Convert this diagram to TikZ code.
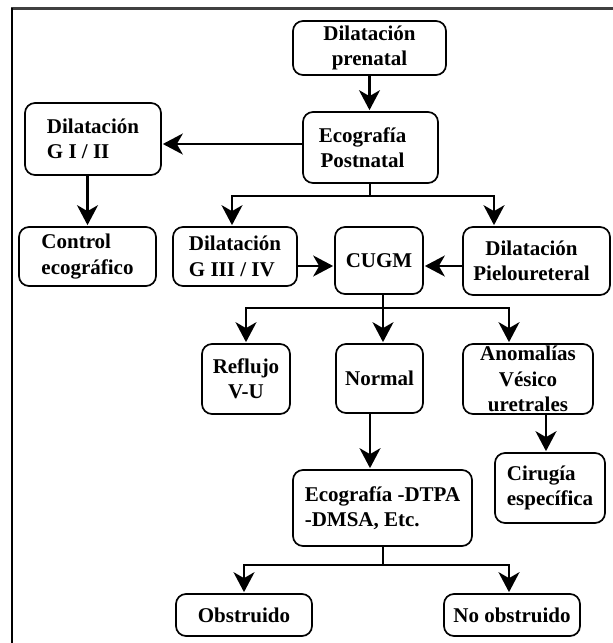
\documentclass[tikz,border=0pt]{standalone}
\usepackage{fontspec}
\setmainfont{Liberation Serif}
\usetikzlibrary{arrows.meta}
\begin{document}
\begin{tikzpicture}[x=1pt,y=-1pt,
 box/.style={draw, line width=1.7pt, rounded corners=10pt, inner sep=0pt, align=center, font=\bfseries\fontsize{21}{25.5}\selectfont},
 lbox/.style={box, align=left},
 conn/.style={line width=2.2pt},
 arr/.style={conn, -{Stealth[length=20pt,width=21pt,inset=6pt]}, shorten >=1pt}]
\useasboundingbox (0,0) rectangle (613,643);
% frame
\draw[line width=2.5pt, black!75] (11,8.5) -- (613,8.5);
\draw[line width=2.2pt] (12,7.5) -- (12,643);
% nodes
\node[box, minimum width=153pt, minimum height=54pt] (pre) at (369.5,48) {Dilatación\\prenatal};
\node[box, minimum width=135pt, minimum height=71pt] (eco) at (370.5,147.5) {\hspace*{-16pt}Ecografía\\\hspace*{-16pt}Postnatal};
\node[lbox, minimum width=136pt, minimum height=72pt] (g12) at (93,139) {Dilatación\\G I / II};
\node[lbox, minimum width=137pt, minimum height=59pt] (ctrl) at (87.5,256.5) {Control\\ecográfico};
\node[lbox, minimum width=124pt, minimum height=59pt] (g34) at (235,256.5) {Dilatación\\G III / IV};
\node[box, minimum width=88pt, minimum height=67pt] (cugm) at (379,260.5) {CUGM};
\node[box, minimum width=147pt, minimum height=68pt] (pielo) at (536.5,261) {\hspace*{-10pt}Dilatación\\\hspace*{-10pt}Pieloureteral};
\node[box, minimum width=88pt, minimum height=70pt] (refl) at (246,379) {Reflujo\\V-U};
\node[box, minimum width=87pt, minimum height=69pt] (norm) at (379.5,378.5) {Normal};
\node[box, minimum width=130pt, minimum height=70pt] (anom) at (528,379) {Anomalías\\Vésico\\uretrales};
\node[lbox, minimum width=110pt, minimum height=70pt] (cir) at (550,488) {Cirugía\\específica};
\node[lbox, minimum width=179pt, minimum height=76pt] (dtpa) at (382.5,508) {Ecografía -DTPA\\-DMSA, Etc.};
\node[box, minimum width=136pt, minimum height=42pt] (obs) at (244,615) {Obstruido};
\node[box, minimum width=136pt, minimum height=42pt] (nobs) at (512,615) {No obstruido};
% junctions
\coordinate (j1) at (370,196);
\coordinate (j2) at (383,308);
\coordinate (j3) at (383,565);
\coordinate (a1) at ([xshift=-42.5pt]pielo.north);
\coordinate (a2) at ([xshift=-19pt]anom.north);
\coordinate (a3) at ([xshift=-4pt]cir.north);
\coordinate (a4) at ([xshift=-9.5pt]norm.south);
\coordinate (a5) at ([yshift=-5.5pt]cugm.west);
\coordinate (a6) at ([yshift=-5.5pt]cugm.east);
\coordinate (a7) at ([yshift=3.5pt]eco.west);
% connectors
\draw[arr] (pre.south) -- (pre.south |- eco.north);
\draw[arr] (a7) -- (a7 -| g12.east);
\draw[arr] (g12.south -| ctrl.north) -- (ctrl.north);
\draw[conn] (eco.south -| j1) -- (j1);
\draw[arr] (j1) -| ([xshift=-3pt]g34.north);
\draw[arr] (j1) -| (a1);
\draw[arr] (a5 -| g34.east) -- (a5);
\draw[arr] (a6 -| pielo.west) -- (a6);
\draw[conn] (j2 |- cugm.south) -- (j2);
\draw[arr] (j2) -| (refl.north);
\draw[arr] (j2) -- (j2 |- norm.north);
\draw[arr] (j2) -| (a2);
\draw[arr] (a4) -- (a4 |- dtpa.north);
\draw[arr] (a3 |- anom.south) -- (a3);
\draw[conn] (j3 |- dtpa.south) -- (j3);
\draw[arr] (j3) -| (obs.north);
\draw[arr] (j3) -| ([xshift=-3pt]nobs.north);
\end{tikzpicture}
\end{document}
